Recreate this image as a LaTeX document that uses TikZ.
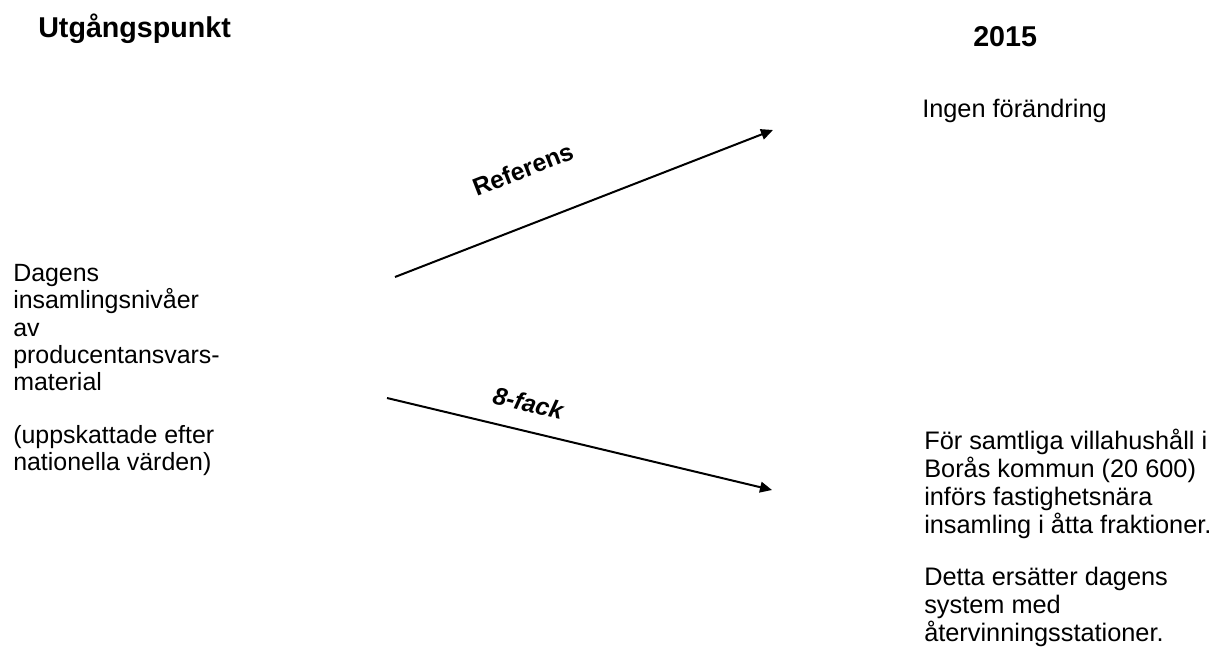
\documentclass[tikz,border=0pt]{standalone}
\usepackage{fontspec}
\setmainfont{Liberation Sans}
\usepackage{tikz}
\usetikzlibrary{
  arrows.meta,
  positioning
}
\definecolor{textdark}{HTML}{000000}
\newcommand{\evenlines}{\setlength{\lineskiplimit}{-20pt}}
\tikzset{
  headtext/.style={
    font=\fontsize{21.5}{25}\selectfont\bfseries, text=textdark,
    inner sep=0pt, anchor=base west,
  },
  bodytext/.style={
    font=\fontsize{18.7}{20.5}\selectfont,
    execute at begin node=\evenlines,
    text=textdark, inner sep=0pt, align=flush left,
    anchor=north west, text width=8cm,
  },
  outtext/.style={
    font=\fontsize{19}{21}\selectfont,
    execute at begin node=\evenlines,
    text=textdark, inner sep=0pt, align=flush left,
    anchor=north west, text width=8cm,
  },
  routelabel/.style={
    font=\fontsize{18.5}{21}\selectfont\bfseries, text=textdark,
    inner sep=0pt, sloped,
  },
  routearrow/.style={
    -{Triangle[length=9pt,width=8pt]}, line width=1.5pt, textdark,
  },
}

\begin{document}
\begin{tikzpicture}[x=0.75pt, y=-0.75pt]
  \useasboundingbox (0,0) rectangle (1218,652);

  % ─── Column headings ─────────────────────────────────────────────────
  \node[headtext] (start) at (38,38) {Utgångspunkt};
  \node[headtext] (year) at (973,47) {2015};

  % ─── Starting point ──────────────────────────────────────────────────
  \node[bodytext] (today) at (13,262)
    {\strut Dagens\\insamlingsnivåer\\av\\producentansvars-\\material};
  \node[bodytext] (estimate) at (13,424)
    {\strut (uppskattade efter\\nationella värden)};

  % ─── Outcomes 2015 ───────────────────────────────────────────────────
  \node[headtext, font=\fontsize{19}{21}\selectfont]
    (nochange) at (922,118) {Ingen förändring};

  \node[outtext] (eightbin) at (924,429)
    {\strut För samtliga villahushåll i\\Borås kommun (20 600)\\
     införs fastighetsnära\\insamling i åtta fraktioner.};
  \node[outtext] (replace) at (924,566)
    {\strut Detta ersätter dagens\\system med\\återvinningsstationer.};

  % ─── Scenario arrows ─────────────────────────────────────────────────
  \coordinate (refStart) at (395,277);
  \coordinate (refEnd) at (773,130);
  \coordinate (fackStart) at (387,398);
  \coordinate (fackEnd) at (772,490);

  \draw[routearrow] (refStart) -- node[routelabel, pos=0.39, above=33pt]
    {Referens} (refEnd);
  \draw[routearrow] (fackStart) -- node[routelabel, pos=0.35, above=13.5pt]
    {\itshape 8-fack} (fackEnd);

\end{tikzpicture}
\end{document}
